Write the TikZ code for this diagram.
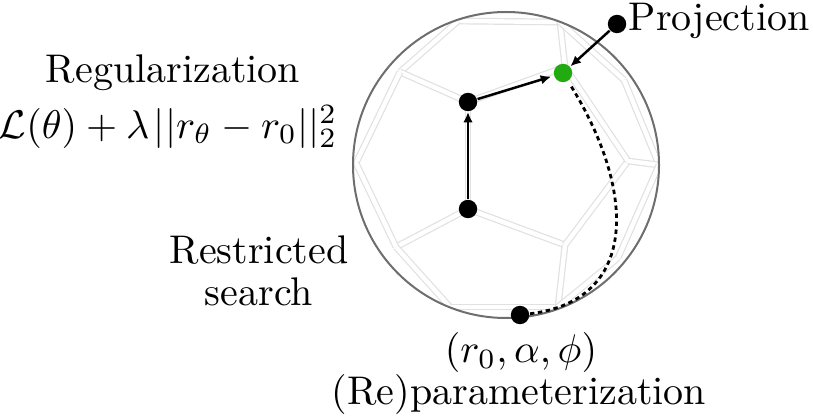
\documentclass[tikz,border=0pt]{standalone}
\usetikzlibrary{arrows.meta}
\definecolor{ringgray}{RGB}{110,110,110}
\definecolor{facegray}{RGB}{225,225,225}
\definecolor{projgreen}{RGB}{34,170,17}
\tikzset{
  edgeline/.style={draw=facegray, double=white, double distance=1.1pt, line width=0.3pt},
  dotnode/.style={circle, fill=black, inner sep=0pt, minimum size=4.6pt},
  greendot/.style={circle, fill=projgreen, inner sep=0pt, minimum size=4.6pt},
  arr/.style={line width=0.62pt, -{Latex[length=2.6pt,width=2.4pt]}},
  dashcurve/.style={line width=0.7pt, dash pattern=on 1.1pt off 0.9pt},
  lbl/.style={inner sep=0pt, anchor=base}
}
\begin{document}
\begin{tikzpicture}[x=0.25pt, y=-0.25pt]
\useasboundingbox (0,0) rectangle (813,416);
% polyhedron vertices
\coordinate (A) at (458,21);
\coordinate (B) at (560,22);
\coordinate (C) at (400,72);
\coordinate (D0) at (468,102);
\coordinate (E0) at (468,209);
\coordinate (F) at (356,163);
\coordinate (G) at (396,247);
\coordinate (H) at (450,307);
\coordinate (I) at (558,307);
\coordinate (J) at (565,245);
\coordinate (K) at (628,161);
\coordinate (M) at (565,67);
\coordinate (N) at (624,80);
\coordinate (P) at (659,165);
\coordinate (Q) at (618,258);
\coordinate (ctr) at (506,165);
\begin{scope}
  \clip (ctr) circle [radius=153];
  \draw[edgeline] (A) -- (B);
  \draw[edgeline] (A) -- (C);
  \draw[edgeline] (C) -- (D0);
  \draw[edgeline] (C) -- (F);
  \draw[edgeline] (D0) -- (E0);
  \draw[edgeline] (D0) -- (M);
  \draw[edgeline] (M) -- (B);
  \draw[edgeline] (E0) -- (G);
  \draw[edgeline] (F) -- (G);
  \draw[edgeline] (G) -- (H);
  \draw[edgeline] (H) -- (I);
  \draw[edgeline] (E0) -- (J);
  \draw[edgeline] (J) -- (I);
  \draw[edgeline] (J) -- (K);
  \draw[edgeline] (M) -- (K);
  \draw[edgeline] (B) -- (N);
  \draw[edgeline] (N) -- (P);
  \draw[edgeline] (K) -- (P);
  \draw[edgeline] (P) -- (Q);
  \draw[edgeline] (Q) -- (I);
\end{scope}
\draw[ringgray, line width=0.5pt] (ctr) circle [radius=153];
% dots
\node[dotnode] (low) at (468,209) {};
\node[dotnode] (up) at (468,102) {};
\node[greendot] (grn) at (563,73) {};
\node[dotnode] (proj) at (617,24) {};
\node[dotnode] (bot) at (520,315) {};
% connectors
\draw[arr] (low) -- (up);
\draw[arr, shorten >=0.6pt] (up) -- (grn);
\draw[arr] (proj) -- (grn);
\draw[dashcurve, shorten <=1.5pt] (grn) .. controls (635,190) and (640,300) .. (bot);
% labels
\node[lbl, anchor=base west] (tproj) at (628,31) {Projection};
\node[lbl] (treg) at (173,83) {Regularization};
\node[lbl] (tform) at (168,138) {$\mathcal{L}(\theta) + \lambda\mkern2mu||r_\theta - r_0||_2^2$};
\node[lbl] (tres1) at (259,264) {Restricted};
\node[lbl] (tres2) at (259,305) {search};
\node[lbl] (tpar) at (521,362) {$(r_0, \alpha, \phi)$};
\node[lbl] (trep) at (519,404) {(Re)parameterization};
\end{tikzpicture}
\end{document}
